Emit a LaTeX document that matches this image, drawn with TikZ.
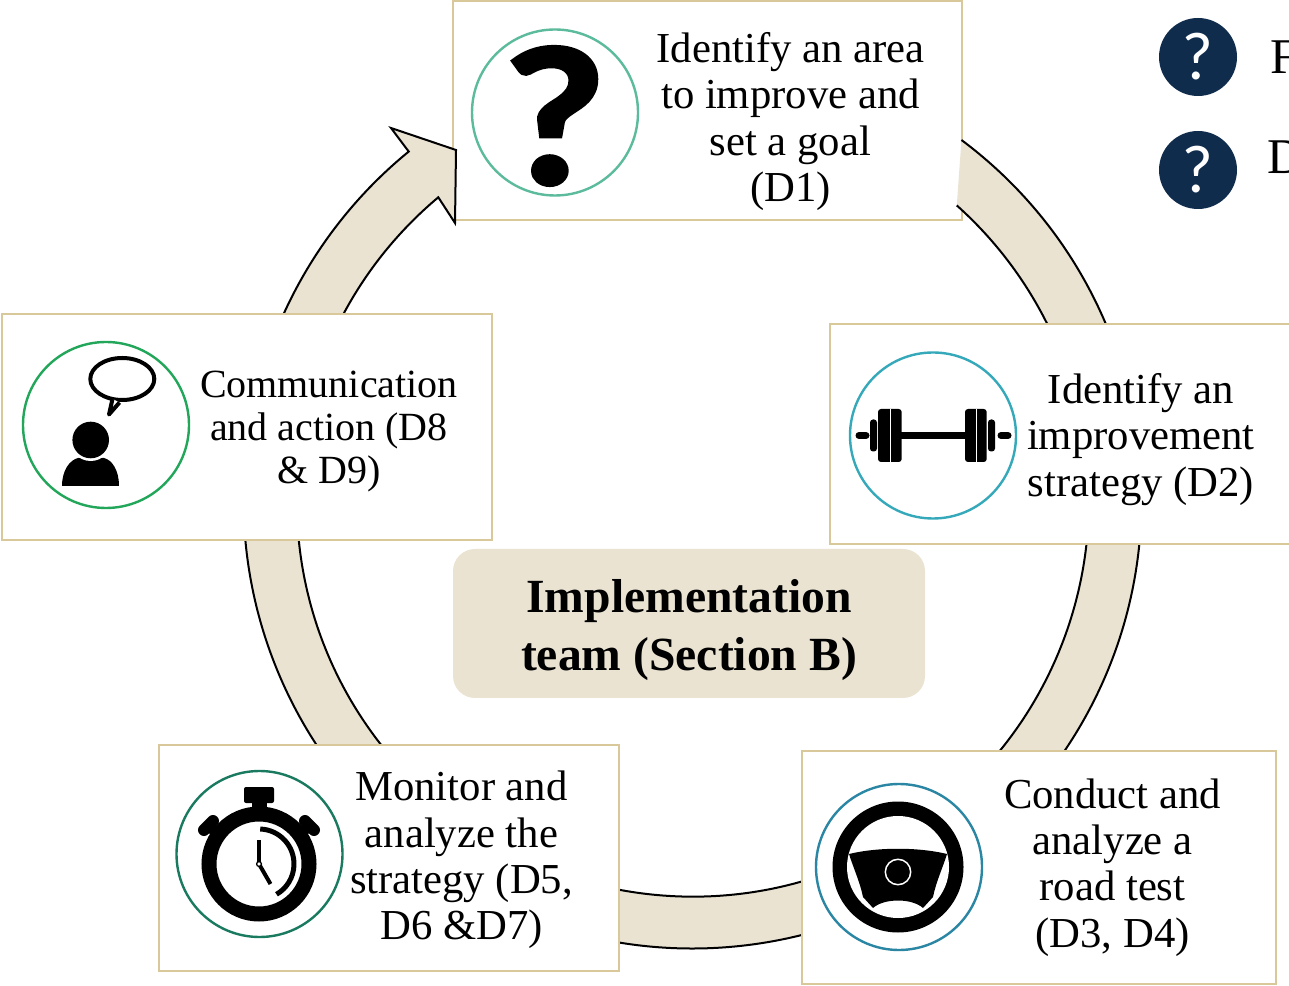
\documentclass[tikz,border=0pt]{standalone}
\usepackage{xcolor}
\usepackage{fontspec}
\setmainfont{Liberation Serif}
\newfontfamily\iconfont{Lato}
\newfontfamily\glyphfont[FakeBold=2.6]{Lato}
\usepackage{tikz}
\usetikzlibrary{positioning}
\usetikzlibrary{calc}

\definecolor{sand}{HTML}{EAE3D2}
\definecolor{boxedge}{HTML}{D9C99A}
\definecolor{navy}{HTML}{0F2C4C}
\definecolor{ringa}{HTML}{5CBB9C}
\definecolor{ringb}{HTML}{35A9BA}
\definecolor{ringc}{HTML}{2A86A3}
\definecolor{ringd}{HTML}{1A7A60}
\definecolor{ringe}{HTML}{22A65A}

\begin{document}
\begin{tikzpicture}[x=1pt,y=1pt,
stagebox/.style={draw=boxedge,fill=white,line width=2pt,rectangle,anchor=north west,
inner sep=0pt,outer sep=0pt},
stagering/.style={draw=#1,fill=white,line width=2.4pt,circle,minimum size=166pt,inner sep=0pt,
outer sep=0pt},
stagetext/.style={align=center,inner sep=0pt,outer sep=0pt,
font=\fontsize{42.7}{46.4}\selectfont},
helpdot/.style={fill=navy,circle,minimum size=78pt,inner sep=0pt,text=white,
font=\iconfont\fontsize{64}{64}\selectfont},
sideletter/.style={anchor=west,inner sep=0pt,font=\fontsize{50}{50}\selectfont},
ringarrow/.style={draw=black,fill=sand,line width=2pt,line join=miter}]
\useasboundingbox (0,0) rectangle (1289,985);

\coordinate (hub) at (692.5,485.5);
\coordinate (ringstart) at ($(hub)+(53.2:449pt)$);
\coordinate (headtop) at (391,857);
\coordinate (headtip) at (456,835);
\coordinate (headlow) at (455,762);
\coordinate (headin) at (438.3,787.7);

\node[stagebox,minimum width=509pt,minimum height=219pt] (identify) at (453,984) {};
\draw[ringarrow] (ringstart) arc[start angle=53.2,end angle=-230.8,radius=449pt]
  -- (headtop) -- (headtip) -- (headlow) -- (headin)
  arc[start angle=-230,end angle=48.2,radius=396pt];

\node[stagebox,minimum width=460pt,minimum height=220pt] (strategy) at (830,661) {};
\node[stagebox,minimum width=490pt,minimum height=226pt] (communicate) at (2,671) {};
\node[stagebox,minimum width=460pt,minimum height=226pt] (monitor) at (159,240) {};
\node[stagebox,minimum width=474pt,minimum height=233pt] (roadtest) at (802,234) {};

\node[stagering=ringa] (questionring) [yshift=-2pt, right=19pt of identify.west] {};
\node[stagering=ringb] (barbellring) [yshift=-1.5pt, right=20pt of strategy.west] {};
\node[stagering=ringe] (speakerring) [yshift=2pt, right=21pt of communicate.west] {};
\node[stagering=ringd] (watchring) [yshift=4pt, right=17.5pt of monitor.west] {};
\node[stagering=ringc] (wheelring) [yshift=0.5pt, right=14pt of roadtest.west] {};

\node[stagetext] (identifytext) [yshift=-9pt, right=18.5pt of questionring]
  {Identify an area\\to improve and\\set a goal\\(D1)};
\node[stagetext] (strategytext) [yshift=-4pt, right=11pt of barbellring]
  {Identify an\\improvement\\strategy (D2)};
\node[stagetext,font=\fontsize{40}{43}\selectfont] (communicatetext)
  [yshift=-7pt, right=11pt of speakerring] {Communication\\and action (D8\\\& D9)};
\node[stagetext] (monitortext) [yshift=-6pt, right=7.5pt of watchring]
  {Monitor and\\analyze the\\strategy (D5,\\D6 \&D7)};
\node[stagetext] (roadtesttext) [yshift=-0.5pt, right=22pt of wheelring]
  {Conduct and\\analyze a\\road test\\(D3, D4)};

\node[fill=sand,rounded corners=22pt,minimum width=472pt,minimum height=149pt,
inner sep=0pt] (team) at (689,361.5) {};
\node[align=center,inner sep=0pt,font=\bfseries\fontsize{47.6}{58}\selectfont] (teamtext)
  [yshift=-7pt] at (team) {Implementation\\team (Section B)};

\node[helpdot] (helpupper) at (1198,928) {?};
\node[helpdot] (helplower) at (1198,815) {?};
\node[sideletter] (upperletter) [right=33pt of helpupper] {F};
\node[sideletter] (lowerletter) [right=30pt of helplower, yshift=13pt] {D};

% question mark
\node[inner sep=0pt,xscale=1.14,transform shape,font=\glyphfont\bfseries\fontsize{186}{186}\selectfont]
  (questionmark) [yshift=-3.5pt] at (questionring) {?};

% barbell
\begin{scope}[shift={(barbellring.center)},black]
\draw[line width=7.5pt] (-33pt,0pt) -- (32pt,0pt);
\draw[line width=7pt,line cap=round] (-74pt,0pt) -- (-67pt,0pt);
\draw[line width=7pt,line cap=round] (68pt,0pt) -- (75pt,0pt);
\fill[rounded corners=3pt] (-55pt,-26.5pt) rectangle (-31.3pt,26.5pt);
\fill[rounded corners=3pt] (32pt,-26.5pt) rectangle (53.7pt,26.5pt);
\fill[rounded corners=3pt] (-63pt,-16pt) rectangle (-56pt,16pt);
\fill[rounded corners=3pt] (55pt,-16pt) rectangle (62pt,16pt);
\draw[white,line width=0.8pt] (-43pt,-26.5pt) -- (-43pt,26.5pt);
\draw[white,line width=0.8pt] (43.7pt,-26.5pt) -- (43.7pt,26.5pt);
\end{scope}

% speaker with bubble
\begin{scope}[shift={(speakerring.center)},black]
\fill (-44pt,-61pt) .. controls (-44pt,-45pt) and (-36pt,-35pt) .. (-28pt,-33pt) -- (-2pt,-33pt)
  .. controls (6pt,-35pt) and (13pt,-45pt) .. (13pt,-61pt) -- cycle;
\fill[white] (-15.3pt,-15pt) circle[radius=21pt];
\fill (-15.3pt,-15pt) circle[radius=18.3pt];
\draw[line width=4pt,fill=white] (16.3pt,46pt) ellipse[x radius=32pt,y radius=21pt];
\draw[line width=4pt,fill=white,line join=round] (6.5pt,26pt) -- (3pt,10.5pt) -- (13.5pt,22.5pt);
\end{scope}

% stopwatch
\begin{scope}[shift={($(watchring.center)+(-0.5pt,-10pt)$)},black]
\fill[rounded corners=2pt] (-15pt,61pt) rectangle (15pt,77pt);
\fill (-7.5pt,45pt) rectangle (7.5pt,62pt);
\draw[line width=12pt,line cap=round] (-55pt,34pt) -- (-46pt,43pt);
\draw[line width=12pt,line cap=round] (55pt,34pt) -- (46pt,43pt);
\draw[line width=10pt] (-48pt,36pt) -- (-40pt,28pt);
\draw[line width=10pt] (48pt,36pt) -- (40pt,28pt);
\draw[line width=15pt] (0pt,0pt) circle[radius=50pt];
\draw[line width=4pt] (0pt,0pt) -- (0pt,24pt);
\draw[line width=4pt] (0pt,0pt) -- (11.5pt,-20pt);
\draw[line width=5pt] (88:35pt) arc[start angle=88,end angle=-60,radius=35pt];
\draw[line width=1.3pt,fill=white] (0pt,0pt) circle[radius=2.4pt];
\end{scope}

% steering wheel
\begin{scope}[shift={($(wheelring.center)+(-1pt,0pt)$)},black]
\fill (0pt,0pt) circle[radius=65.5pt];
\fill[white] (0pt,0pt) circle[radius=51pt];
\fill (-49pt,13pt) .. controls (-20pt,20pt) and (20pt,20pt) .. (49pt,13pt)
  .. controls (45pt,0pt) and (38pt,-15pt) .. (35pt,-30pt) -- (25pt,-41pt)
  .. controls (14pt,-31pt) and (-14pt,-31pt) .. (-25pt,-41pt) -- (-35pt,-30pt)
  .. controls (-38pt,-15pt) and (-45pt,0pt) .. (-49pt,13pt) -- cycle;
\draw[white,line width=1.5pt] (0pt,-5pt) circle[radius=12.7pt];
\end{scope}
\end{tikzpicture}
\end{document}
